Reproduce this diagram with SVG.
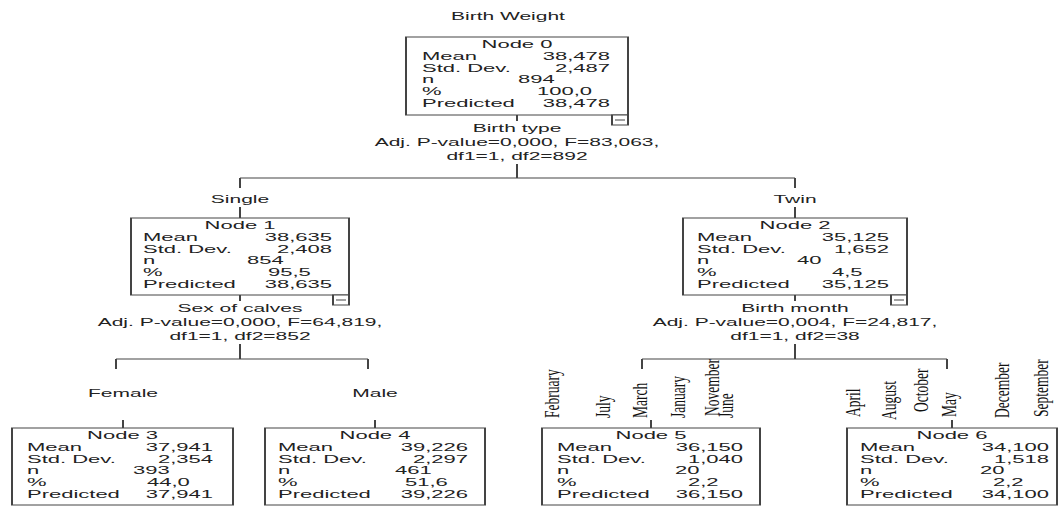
<svg xmlns="http://www.w3.org/2000/svg" width="1059" height="507" viewBox="0 0 1059 507">
<style>
text{font-family:"Liberation Sans",Arial,sans-serif;fill:#222}
.n{font-size:11px}
.c{text-anchor:middle}
.e{text-anchor:end}
.lb{font-size:10.5px}
.mo{font-family:"Liberation Serif","Times New Roman",serif;font-size:13.5px;fill:#111}
.box{fill:#fff;stroke:#444;stroke-width:1}
.ln{fill:none;stroke:#444;stroke-width:1}
</style>
<rect width="1059" height="507" fill="#fff"/>
<g transform="scale(2,1)">
  <text class="lb c" x="254" y="20">Birth Weight</text>
  <g id="connectors" class="ln">
    <path d="M258.5 115V121 M258.5 164V178 M120 178H397.5 M120 178V188 M397.5 178V188 M120 207V218 M397.5 207V218 M120 295V301 M120 344V359 M58 359H184 M58 359V369 M184 359V369 M61.5 420V428 M187.5 420V428 M397.5 295V301 M397.5 344V359 M321 359H473.5 M321 359V369 M473.5 359V369 M325.5 420V428 M476 420V428"/>
  </g>
  <g id="labels">
    <text class="lb c" x="258.5" y="132">Birth type</text>
    <text class="lb c" x="258.5" y="146">Adj. P-value=0,000, F=83,063,</text>
    <text class="lb c" x="258.5" y="160">df1=1, df2=892</text>
    <text class="lb c" x="120" y="203">Single</text>
    <text class="lb c" x="397.5" y="203">Twin</text>
    <text class="lb c" x="120" y="312">Sex of calves</text>
    <text class="lb c" x="120" y="326">Adj. P-value=0,000, F=64,819,</text>
    <text class="lb c" x="120" y="340">df1=1, df2=852</text>
    <text class="lb c" x="397.5" y="312">Birth month</text>
    <text class="lb c" x="397.5" y="326">Adj. P-value=0,004, F=24,817,</text>
    <text class="lb c" x="397.5" y="340">df1=1, df2=38</text>
    <text class="lb c" x="61.5" y="397">Female</text>
    <text class="lb c" x="187.5" y="397">Male</text>
  </g>
  <g id="node0">
    <rect class="box" x="203" y="37" width="111" height="78"/>
    <text class="n c" x="258.5" y="48">Node 0</text>
    <text class="n" x="211" y="60">Mean</text><text class="n e" x="305" y="60">38,478</text>
    <text class="n" x="211" y="72">Std. Dev.</text><text class="n e" x="305" y="72">2,487</text>
    <text class="n" x="211" y="83">n</text><text class="n" x="259" y="83">894</text>
    <text class="n" x="211" y="95">%</text><text class="n" x="268.5" y="95">100,0</text>
    <text class="n" x="211" y="107">Predicted</text><text class="n e" x="305" y="107">38,478</text>
    <rect class="box" x="306" y="115" width="8" height="10"/>
    <path class="ln" d="M307.5 120H312.5"/>
  </g>
  <g id="node1">
    <rect class="box" x="65.5" y="218" width="109" height="77"/>
    <text class="n c" x="120" y="229">Node 1</text>
    <text class="n" x="71.5" y="241">Mean</text><text class="n e" x="166" y="241">38,635</text>
    <text class="n" x="71.5" y="253">Std. Dev.</text><text class="n e" x="166" y="253">2,408</text>
    <text class="n" x="71.5" y="264">n</text><text class="n" x="123.5" y="264">854</text>
    <text class="n" x="71.5" y="276">%</text><text class="n" x="134" y="276">95,5</text>
    <text class="n" x="71.5" y="288">Predicted</text><text class="n e" x="166" y="288">38,635</text>
    <rect class="box" x="166.5" y="295" width="8" height="10"/>
    <path class="ln" d="M168 300H173"/>
  </g>
  <g id="node2">
    <rect class="box" x="341.5" y="218" width="112" height="77"/>
    <text class="n c" x="397.5" y="229">Node 2</text>
    <text class="n" x="348.5" y="241">Mean</text><text class="n e" x="444.5" y="241">35,125</text>
    <text class="n" x="348.5" y="253">Std. Dev.</text><text class="n e" x="444.5" y="253">1,652</text>
    <text class="n" x="348.5" y="264">n</text><text class="n" x="398.5" y="264">40</text>
    <text class="n" x="348.5" y="276">%</text><text class="n" x="416" y="276">4,5</text>
    <text class="n" x="348.5" y="288">Predicted</text><text class="n e" x="444.5" y="288">35,125</text>
    <rect class="box" x="445.5" y="295" width="8" height="10"/>
    <path class="ln" d="M447 300H452"/>
  </g>
  <g id="node3">
    <rect class="box" x="6" y="428" width="110.5" height="77"/>
    <text class="n c" x="61.25" y="439">Node 3</text>
    <text class="n" x="13.5" y="451">Mean</text><text class="n e" x="106.5" y="451">37,941</text>
    <text class="n" x="13.5" y="463">Std. Dev.</text><text class="n e" x="106.5" y="463">2,354</text>
    <text class="n" x="13.5" y="474">n</text><text class="n" x="66.5" y="474">393</text>
    <text class="n" x="13.5" y="486">%</text><text class="n" x="73.5" y="486">44,0</text>
    <text class="n" x="13.5" y="498">Predicted</text><text class="n e" x="106.5" y="498">37,941</text>
  </g>
  <g id="node4">
    <rect class="box" x="132.5" y="428" width="110" height="77"/>
    <text class="n c" x="187.5" y="439">Node 4</text>
    <text class="n" x="139" y="451">Mean</text><text class="n e" x="234" y="451">39,226</text>
    <text class="n" x="139" y="463">Std. Dev.</text><text class="n e" x="234" y="463">2,297</text>
    <text class="n" x="139" y="474">n</text><text class="n" x="197.5" y="474">461</text>
    <text class="n" x="139" y="486">%</text><text class="n" x="202.5" y="486">51,6</text>
    <text class="n" x="139" y="498">Predicted</text><text class="n e" x="234" y="498">39,226</text>
  </g>
  <g id="node5">
    <rect class="box" x="271" y="428" width="109" height="77"/>
    <text class="n c" x="325.5" y="439">Node 5</text>
    <text class="n" x="278.5" y="451">Mean</text><text class="n e" x="371.5" y="451">36,150</text>
    <text class="n" x="278.5" y="463">Std. Dev.</text><text class="n e" x="371.5" y="463">1,040</text>
    <text class="n" x="278.5" y="474">n</text><text class="n" x="337.5" y="474">20</text>
    <text class="n" x="278.5" y="486">%</text><text class="n" x="344" y="486">2,2</text>
    <text class="n" x="278.5" y="498">Predicted</text><text class="n e" x="371.5" y="498">36,150</text>
  </g>
  <g id="node6">
    <rect class="box" x="423.5" y="428" width="105" height="77"/>
    <text class="n c" x="476" y="439">Node 6</text>
    <text class="n" x="430" y="451">Mean</text><text class="n e" x="524.5" y="451">34,100</text>
    <text class="n" x="430" y="463">Std. Dev.</text><text class="n e" x="524.5" y="463">1,518</text>
    <text class="n" x="430" y="474">n</text><text class="n" x="490" y="474">20</text>
    <text class="n" x="430" y="486">%</text><text class="n" x="496.5" y="486">2,2</text>
    <text class="n" x="430" y="498">Predicted</text><text class="n e" x="524.5" y="498">34,100</text>
  </g>
</g>
<g id="months">
  <text class="mo" transform="translate(559 418) scale(1.55 1) rotate(-90)">February</text>
  <text class="mo" transform="translate(610 418) scale(1.55 1) rotate(-90)">July</text>
  <text class="mo" transform="translate(647 418) scale(1.55 1) rotate(-90)">March</text>
  <text class="mo" transform="translate(685 418) scale(1.55 1) rotate(-90)">January</text>
  <text class="mo" transform="translate(719 416) scale(1.55 1) rotate(-90)">November</text>
  <text class="mo" transform="translate(733 418) scale(1.55 1) rotate(-90)">June</text>
  <text class="mo" transform="translate(860 417) scale(1.55 1) rotate(-90)">April</text>
  <text class="mo" transform="translate(896 420) scale(1.55 1) rotate(-90)">August</text>
  <text class="mo" transform="translate(928 412) scale(1.55 1) rotate(-90)">October</text>
  <text class="mo" transform="translate(956 417) scale(1.55 1) rotate(-90)">May</text>
  <text class="mo" transform="translate(1009 418) scale(1.55 1) rotate(-90)">December</text>
  <text class="mo" transform="translate(1048 417) scale(1.55 1) rotate(-90)">September</text>
</g>
</svg>
